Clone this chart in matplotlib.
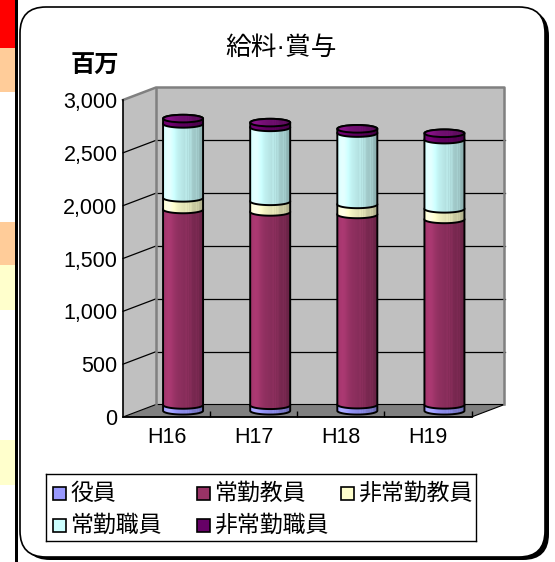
import matplotlib
matplotlib.use('agg')
import matplotlib.pyplot as plt
import numpy as np
from matplotlib.patches import Polygon, Rectangle, FancyBboxPatch, Ellipse
from matplotlib.colors import to_rgb

plt.rcParams['font.family'] = ['Liberation Sans', 'Noto Sans CJK JP', 'DejaVu Sans']

# data (百万円)
years = ["H16", "H17", "H18", "H19"]
series_names = ["役員", "常勤教員", "非常勤教員", "常勤職員", "非常勤職員"]
yakuin = [55, 52, 58, 56]
joukin_kyouin = [1850, 1830, 1800, 1755]
hijoukin_kyouin = [110, 100, 95, 100]
joukin_shokuin = [700, 700, 675, 655]
hijoukin_shokuin = [50, 45, 40, 60]
colors = ["#9999FF", "#993366", "#FFFFCC", "#CCFFFF", "#660066"]
yticks = [0, 500, 1000, 1500, 2000, 2500, 3000]

W, H = 555, 562
fig = plt.figure(figsize=(W / 100, H / 100), dpi=100)

# background decorations, pixel units
bg = fig.add_axes([0, 0, 1, 1])
bg.set_xlim(0, W)
bg.set_ylim(H, 0)
bg.axis('off')
for y0, y1, c in [(0, 48, '#FF0000'), (48, 92, '#FFCC99'), (222, 265, '#FFCC99'),
                  (265, 310, '#FFFFCC'), (440, 485, '#FFFFCC')]:
    bg.add_patch(Rectangle((0, y0), 15, y1 - y0, fc=c, lw=0))
bg.add_patch(Rectangle((15, 0), 2.5, H, fc='black', lw=0))
bg.add_patch(FancyBboxPatch((24, 10), 525, 550, boxstyle='round,pad=0,rounding_size=26',
                            fc='black', ec='none'))
bg.add_patch(FancyBboxPatch((20, 7), 525, 550, boxstyle='round,pad=0,rounding_size=26',
                            fc='white', ec='black', lw=1.2))

# main chart (front plane)
x0p, x1p, ytop, ybot = 123, 471.5, 100, 417
ax = fig.add_axes([x0p / W, (H - ybot) / H, (x1p - x0p) / W, (ybot - ytop) / H])
ax.patch.set_visible(False)
px_x = 4 / (x1p - x0p)
px_y = 3000 / (ybot - ytop)
DX = 33 * px_x
DY = 12.5 * px_y

# walls and floor
ax.add_patch(Polygon([(0, 0), (DX, DY), (DX, 3000 + DY), (0, 3000)], fc='#C0C0C0', ec='none',
                     zorder=0, clip_on=False))
ax.add_patch(Polygon([(0, 0), (4, 0), (4 + DX, DY), (DX, DY)], fc='#808080', ec='black', lw=0.8,
                     zorder=0.5, clip_on=False))
ax.add_patch(Rectangle((DX, DY), 4, 3000, fc='#C0C0C0', ec='none', zorder=0.2, clip_on=False))
for v in yticks[1:-1]:
    ax.plot([DX, 4 + DX], [v + DY, v + DY], color='black', lw=0.9, zorder=1, clip_on=False)
    ax.plot([0, DX], [v, v + DY], color='black', lw=0.9, zorder=1, clip_on=False)
ax.plot([0, DX, 4 + DX, 4 + DX], [3000, 3000 + DY, 3000 + DY, DY], color='#808080', lw=1.8,
        zorder=1.2, clip_on=False)
ax.plot([DX, DX], [DY, 3000 + DY], color='#808080', lw=1.8, zorder=1.2, clip_on=False)


def gradient(c):
    t = np.linspace(0, 1, 80)
    prof = 1.02 + 0.12 * np.exp(-((t - 0.15) / 0.12) ** 2) - 0.34 * t ** 1.5
    for s in (0.58, 0.64, 0.70, 0.84, 0.89):
        prof = prof + 0.10 * np.exp(-((t - s) / 0.012) ** 2)
    return np.clip(np.outer(prof, to_rgb(c)), 0, 1)[None, :, :]


data = np.array([yakuin, joukin_kyouin, hijoukin_kyouin, joukin_shokuin, hijoukin_shokuin])
bottoms = np.vstack([np.zeros(4), np.cumsum(data, axis=0)[:-1]])
a = 20 * px_x
b = 3.8 * px_y
th_lo = np.linspace(np.pi, 2 * np.pi, 50)
th_up = np.linspace(0, np.pi, 50)

for i in range(len(years)):
    xc = i + 0.5 + DX / 2
    for k in range(len(series_names)):
        y0 = bottoms[k, i] + DY / 2
        y1 = y0 + data[k, i]
        pts = np.c_[np.r_[xc + a * np.cos(th_lo), xc + a * np.cos(th_up)],
                    np.r_[y0 + b * np.sin(th_lo), y1 + b * np.sin(th_up)]]
        z = 3 + k * 0.1
        poly = Polygon(pts, closed=True, fc=colors[k], ec='none', zorder=z)
        ax.add_patch(poly)
        im = ax.imshow(gradient(colors[k]), extent=[xc - a, xc + a, y0 - b, y1 + b],
                       aspect='auto', origin='lower', zorder=z + 0.01, interpolation='bilinear')
        im.set_clip_path(poly)
        ax.add_patch(Polygon(pts, closed=True, fc='none', ec='black', lw=1.4, zorder=z + 0.02))
    ytop_i = bottoms[-1, i] + data[-1, i] + DY / 2
    top = Ellipse((xc, ytop_i), 2 * a, 2 * b, fc=colors[-1], ec='none', zorder=4)
    ax.add_patch(top)
    im = ax.imshow(gradient('#7A107A'), extent=[xc - a, xc + a, ytop_i - b, ytop_i + b],
                   aspect='auto', origin='lower', zorder=4.01, interpolation='bilinear')
    im.set_clip_path(top)
    ax.add_patch(Ellipse((xc, ytop_i), 2 * a, 2 * b, fc='none', ec='black', lw=1.4, zorder=4.02))

ax.set_xlim(0, 4)
ax.set_ylim(0, 3000)
for s in ['top', 'right']:
    ax.spines[s].set_visible(False)
for s in ['left', 'bottom']:
    ax.spines[s].set_linewidth(1.2)
    ax.spines[s].set_zorder(2)
ax.set_yticks(yticks)
ax.set_yticklabels([f"{v:,}" for v in yticks])
ax.set_xticks(np.arange(len(years)) + 0.5)
ax.set_xticklabels(years)
ax.set_xticks([1, 2, 3, 4], minor=True)
ax.tick_params(axis='y', length=0, pad=4, labelsize=15.5)
ax.tick_params(axis='x', which='major', length=0, pad=7, labelsize=15.5)
ax.tick_params(axis='x', which='minor', direction='in', length=4.5, width=1, color='black')

fig.text(281 / W, 1 - 48 / H, "給料·賞与", ha='center', va='center', fontsize=18.5)
fig.text(95 / W, 1 - 66 / H, "百万", ha='center', va='center', fontsize=17.5, fontweight='bold')

# legend box
lg = fig.add_axes([46 / W, (H - 541) / H, 430 / W, 67 / H])
lg.set_xlim(0, 430)
lg.set_ylim(67, 0)
lg.set_xticks([])
lg.set_yticks([])
for s in lg.spines.values():
    s.set_linewidth(1)
for idx, name in enumerate(series_names):
    col, row = idx % 3, idx // 3
    lx = 7 + col * 144
    ly = 19 + row * 32.5
    lg.add_patch(Rectangle((lx, ly - 6.5), 13, 13, fc=colors[idx], ec='black', lw=1.2))
    lg.text(lx + 17, ly, name, va='center', ha='left', fontsize=16.5)

fig.savefig("out.png", dpi=100)
